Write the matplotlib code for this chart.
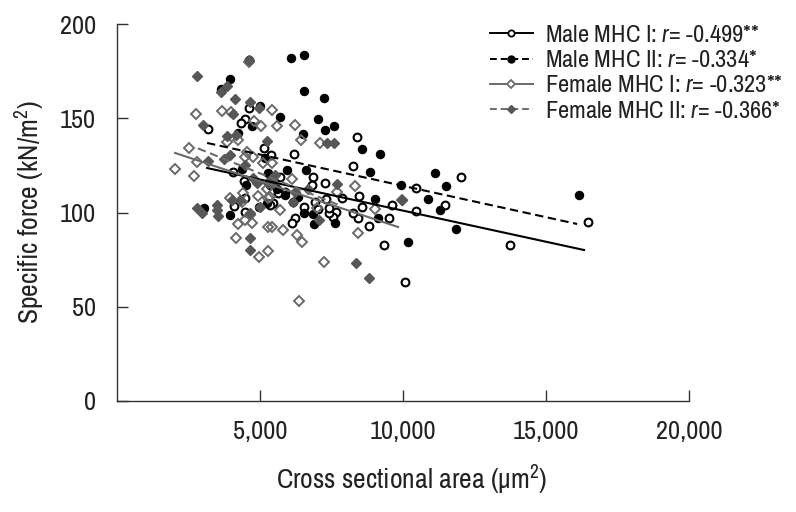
import matplotlib
matplotlib.use('Agg')
import matplotlib.pyplot as plt
from matplotlib.lines import Line2D

plt.rcParams['font.family'] = ['Archivo Narrow', 'Liberation Sans', 'DejaVu Sans']
plt.rcParams['mathtext.fontset'] = 'custom'
plt.rcParams['mathtext.rm'] = 'Archivo Narrow'
plt.rcParams['mathtext.it'] = 'Archivo Narrow:italic'

male1_x = [4620, 4480, 4340, 3180, 5140, 5385, 6190, 8390, 8250, 4060, 6850, 4440, 5700, 6820, 7270, 5875,
           7870, 8460, 8570, 9620, 10460, 10460, 9510, 8810, 8430, 8250, 7660, 7550, 7410, 7410, 7310, 7030,
           6920, 6540, 6225, 6120, 5455, 5350, 4090, 4480, 4480, 5630, 9340, 10070, 12030, 11470, 13740, 16470]
male1_y = [155.4, 149.6, 147.5, 144.3, 134.2, 130.5, 131, 140, 124.7, 121.5, 118.8, 116.7, 118.8, 114.6, 115.6, 110.9,
           107.7, 108.8, 103, 104, 113, 100.8, 97, 92.8, 97, 99.7, 100.3, 97.6, 99.7, 102.4, 107, 101.9,
           105.6, 103, 97, 94.4, 105, 104, 103.4, 107.7, 100.3, 110.3, 82.8, 63.1, 118.8, 104, 82.8, 95]

male2_x = [6085, 6540, 6540, 7240, 7030, 7270, 7590, 8570, 9200, 8850, 6500, 5700, 5000, 3950, 3640, 4620,
           4720, 4230, 5945, 6610, 5180, 4370, 4510, 5280, 9930, 10880, 9020, 9130, 10180, 6890, 7620, 6540,
           6850, 3950, 3040, 4970, 5250, 6155, 6330, 5875, 5600, 5350, 11120, 11500, 11300, 11855, 16160]
male2_y = [182, 183.5, 164.5, 160.7, 149.6, 143.8, 145.9, 133.7, 131, 121.5, 141.6, 150.7, 156.5, 170.8, 165.5, 181,
           146, 142, 122.5, 122.5, 129, 123, 114.6, 121, 114.6, 107, 107, 97, 84.3, 94, 94.4, 99.7,
           99.2, 98.7, 102.4, 103, 105, 105.6, 108.2, 109.3, 112.5, 114.6, 121, 114, 101.3, 91.2, 109.3]

female1_x = [4620, 2760, 3670, 3990, 5420, 6225, 5040, 5600, 4790, 6430, 7100, 4230, 3850, 2520, 2800, 2030,
             2690, 4550, 4760, 4480, 5110, 5420, 6120, 4410, 3950, 4930, 5280, 5250, 7690, 8320, 9020, 9970,
             8430, 6470, 6295, 5800, 5420, 5280, 4720, 4480, 4230, 4160, 5280, 4970, 7240, 6365, 5700, 4650,
             4370, 5350, 6990]
female1_y = [179.8, 152.3, 153.8, 153.3, 154.4, 146.4, 145.9, 145.9, 148.5, 138.5, 136.9, 138.5, 137.4, 134.2, 126.8, 123,
             119.4, 132, 129.4, 129.4, 126.3, 126.3, 117.8, 110.3, 107.7, 108.8, 107.7, 112.5, 110.9, 114, 101.9, 106.6,
             89.1, 84.3, 88, 90.7, 92.3, 92.3, 94.4, 96, 93.9, 86.5, 79.6, 76.4, 73.7, 53, 101.3, 98.7,
             105.6, 108.2, 102.4]

female2_x = [2800, 4620, 3850, 3640, 4130, 4650, 4970, 4060, 3010, 3850, 4160, 5250, 7340, 7590, 3950, 3740,
             3180, 4480, 4760, 4900, 5350, 5525, 5280, 5455, 6225, 6680, 7690, 4020, 4300, 2800, 2970, 3500,
             3500, 3530, 4650, 7060, 4650, 4650, 8360, 8810, 9970, 6155, 5000]
female2_y = [172.4, 181, 167, 164, 160.2, 158.6, 155.4, 152.3, 146.4, 140.6, 141, 138, 136.9, 136.9, 130.5, 128.4,
             127.3, 125.2, 118.3, 115.6, 117.2, 120, 115.6, 115.6, 110.9, 112.5, 115, 106.6, 106.6, 102.4, 99.7, 104,
             101.3, 98.1, 99.7, 96, 86.5, 80.1, 73.2, 65.3, 106.6, 105.6, 103]

# trend line end points
male1_line_x = [3150, 16330]
male1_line_y = [123.6, 80.1]
male2_line_x = [3150, 16090]
male2_line_y = [136.9, 93.9]
female1_line_x = [2030, 9830]
female1_line_y = [131.6, 92.3]
female2_line_x = [2830, 7800]
female2_line_y = [134, 103.7]

x_ticks = [5000, 10000, 15000, 20000]
x_tick_labels = ['5,000', '10,000', '15,000', '20,000']
y_ticks = [0, 50, 100, 150, 200]

legend_labels = [r'Male MHC I: $\mathit{r}$= -0.499**',
                 r'Male MHC II: $\mathit{r}$= -0.334*',
                 r'Female MHC I: $\mathit{r}$= -0.323**',
                 r'Female MHC II: $\mathit{r}$= -0.366*']

gray = '#6a6a6a'
dark_gray = '#575757'
ink = '#222222'

fig = plt.figure(figsize=(7.96, 5.12), dpi=100)
ax = fig.add_axes([117 / 796, 111 / 512, 572 / 796, 377 / 512])

ax.plot(male1_x, male1_y, 'o', mfc='white', mec='black', mew=1.5, ms=5.6, zorder=2)
ax.plot(male2_x, male2_y, 'o', color='black', ms=5.8, zorder=3)
ax.plot(female1_x, female1_y, 'D', mfc='none', mec=gray, mew=1.4, ms=5.6, zorder=4)
ax.plot(female2_x, female2_y, 'D', color=dark_gray, ms=5, zorder=5)

ax.plot(male1_line_x, male1_line_y, '-', color='black', lw=1.5, zorder=6)
ax.plot(male2_line_x, male2_line_y, color='black', lw=1.5, dashes=(4, 2.2), zorder=6)
ax.plot(female1_line_x, female1_line_y, '-', color=gray, lw=1.5, zorder=6)
ax.plot(female2_line_x, female2_line_y, color=gray, lw=1.5, dashes=(4, 2.2), zorder=6)

ax.set_xlim(0, 20000)
ax.set_ylim(0, 200)
ax.set_xticks(x_ticks)
ax.set_xticklabels(x_tick_labels)
ax.set_yticks(y_ticks)
ax.tick_params(axis='both', direction='in', labelsize=19, length=8, width=1, color='#333333', labelcolor=ink)
ax.tick_params(axis='x', pad=14)
ax.tick_params(axis='y', pad=15)
ax.spines['top'].set_visible(False)
ax.spines['right'].set_visible(False)
ax.spines['left'].set_linewidth(1)
ax.spines['bottom'].set_linewidth(1)
ax.spines['left'].set_color('#333333')
ax.spines['bottom'].set_color('#333333')

ax.set_xlabel(r'Cross sectional area (μm$^{2}$)', fontsize=19.9, color=ink, labelpad=14)
ax.xaxis.label.set_x(0.516)
ax.set_ylabel(r'Specific force (kN/m$^{2}$)', fontsize=19.9, color=ink, labelpad=9)

handles = [
    Line2D([], [], color='black', lw=1.4, marker='o', mfc='white', mec='black', mew=1.3, ms=4.5),
    Line2D([], [], color='black', lw=1.4, dashes=(3.5, 2), marker='o', ms=5),
    Line2D([], [], color=gray, lw=1.4, marker='D', mfc='white', mec=gray, mew=1.3, ms=4.5),
    Line2D([], [], color=gray, lw=1.4, dashes=(3.5, 2), marker='D', mfc=dark_gray, mec=dark_gray, ms=4.5),
]
ax.legend(handles, legend_labels, loc='upper left', bbox_to_anchor=(0.652, 0.998), frameon=False,
          fontsize=17.6, numpoints=1, handlelength=1.75, handletextpad=0.5, labelspacing=0.17,
          labelcolor=ink, borderpad=0, borderaxespad=0)

fig.savefig('out.png', dpi=100)
